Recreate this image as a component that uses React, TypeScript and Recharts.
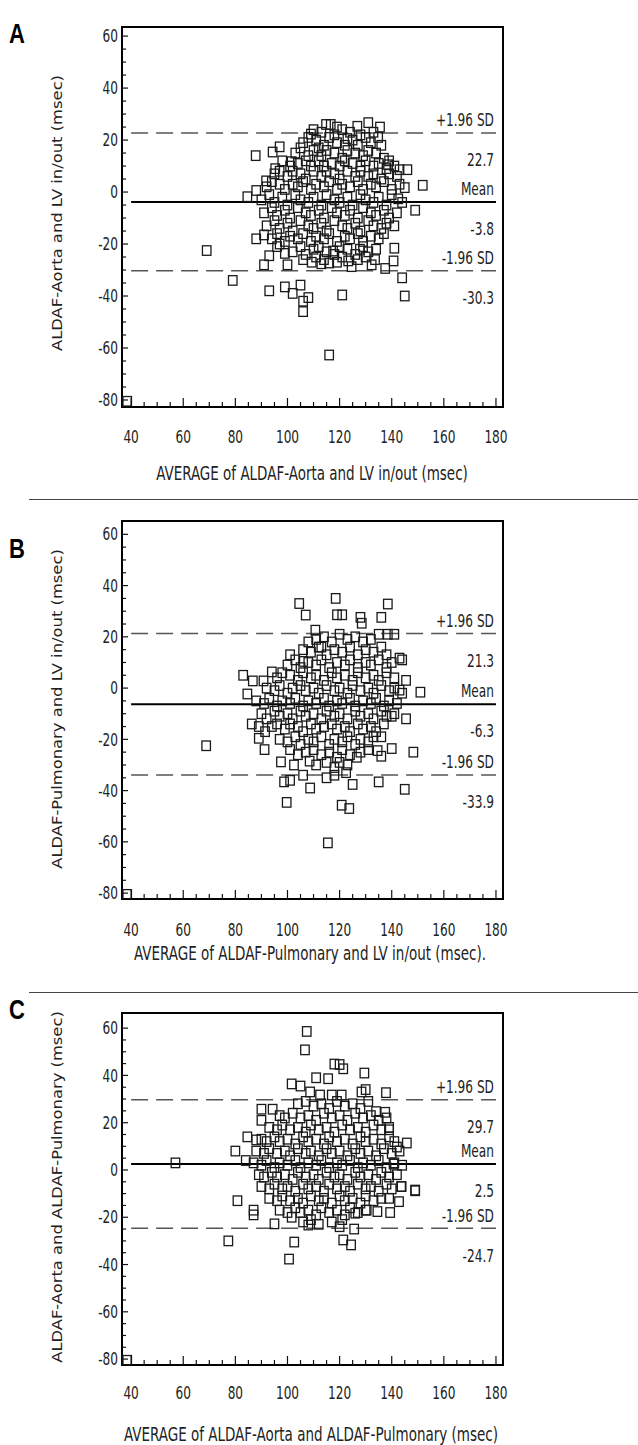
import { ScatterChart, Scatter, XAxis, YAxis, ReferenceLine, ReferenceArea } from 'recharts'

const FONT = '"DejaVu Sans Condensed", "DejaVu Sans", sans-serif'
const STRETCH = 1.3
const X_AXIS_H = 60
const Y_AXIS_W = 60
const PLOT_LEFT = 122

const xTicks = [40, 45, 50, 55, 60, 65, 70, 75, 80, 85, 90, 95, 100, 105, 110, 115, 120, 125, 130, 135, 140, 145, 150, 155, 160, 165, 170, 175, 180]
const yTicks = [-80, -75, -70, -65, -60, -55, -50, -45, -40, -35, -30, -25, -20, -15, -10, -5, 0, 5, 10, 15, 20, 25, 30, 35, 40, 45, 50, 55, 60]
const limitNames = ['+1.96 SD', 'Mean', '-1.96 SD']

// A: ALDAF-Aorta vs LV in/out
const limitsA = [22.7, -3.8, -30.3]
const pointsA: [number, number][] = [
  [38.5, -80.5], [69, -22.5], [79, -34], [116, -62.7], [93, -38], [99, -36.5], [102, -39], [105, -35.8], [106, -42], [106, -46],
  [108, -40.6], [121, -39.6], [144, -33], [145, -40], [149, -7],
  [87.8, 14], [94.3, 15.4], [97, 17.4], [101.6, 11.7], [95.3, 9], [84.6, -1.8], [88, 0.6], [91.8, 4.3], [114.8, 26], [116.6, 26],
  [126.8, 25.3], [131, 26.7], [135.5, 25], [134.8, 21], [109, 22.3], [123, 20.6], [138.6, 10.5], [143, 8.6], [146, 8.6], [151.9, 2.6],
  [145, 1.7], [142.5, -2.6], [141, -21.6], [140.7, -26.5], [137.5, -29.4], [133.6, -26], [132.3, -28], [124.6, -28.7], [127.8, -22], [88, -18],
  [91, -16.5], [91, -28], [93, -24.5], [97, -20], [100, -28], [99, -23.6], [109.3, -27], [113, -27.6], [116, -27.3], [117.5, -22.7], [123.3, -26.5],
  [110, 24], [113, 23], [118, 22], [121, 24], [124, 23], [128, 22], [133, 23], [119, 25],
  [106, 19], [108, 21], [111, 20], [114, 18], [116, 21], [119, 19], [122, 18], [125, 20], [127, 18], [130, 21], [132, 19], [136, 18], [112, 17],
  [103, 15], [105, 17], [108, 14], [110, 16], [113, 14], [115, 16], [118, 15], [121, 13], [123, 16], [126, 15], [129, 14], [131, 16], [134, 15], [137, 13], [139, 12],
  [98, 12], [101, 10], [104, 11], [107, 12], [109, 10], [112, 12], [114, 10], [117, 11], [120, 10], [122, 12], [125, 11], [128, 10], [130, 12], [133, 10], [135, 11], [138, 9], [141, 10],
  [95, 7], [97, 8], [100, 6], [102, 8], [105, 7], [107, 5], [110, 8], [113, 6], [115, 8], [118, 7], [120, 5], [123, 8], [126, 6], [128, 8], [131, 6], [133, 7], [136, 5], [139, 7], [142, 6],
  [92, 2], [94, 4], [97, 3], [99, 1], [102, 3], [104, 2], [106, 4], [109, 1], [111, 3], [114, 2], [116, 4], [119, 1], [121, 3], [124, 2], [127, 4], [129, 1], [132, 3], [134, 2], [137, 4], [140, 1], [143, 3],
  [90, -3], [93, -1], [95, -4], [98, -2], [100, -5], [103, -1], [105, -3], [108, -4], [110, -2], [113, -5], [115, -1], [118, -3], [120, -4], [123, -2], [125, -5], [128, -1], [130, -3], [133, -4], [135, -2], [138, -5], [140, -1], [144, -4],
  [91, -8], [94, -6], [96, -9], [99, -7], [101, -10], [104, -6], [107, -8], [109, -9], [112, -7], [114, -10], [117, -6], [119, -8], [122, -9], [124, -7], [127, -10], [129, -6], [132, -8], [134, -9], [137, -7], [139, -10], [142, -8],
  [92, -13], [95, -11], [97, -14], [100, -12], [102, -15], [105, -11], [108, -13], [110, -14], [113, -12], [115, -15], [118, -11], [121, -13], [123, -14], [126, -12], [128, -15], [131, -11], [133, -13], [136, -14], [138, -12], [141, -13],
  [94, -18], [96, -16], [99, -19], [101, -17], [104, -18], [106, -16], [109, -19], [111, -17], [114, -18], [116, -16], [119, -19], [122, -17], [124, -18], [127, -16], [129, -19], [132, -17], [135, -18], [137, -16],
  [96, -21], [102, -23], [105, -21], [107, -24], [110, -22], [112, -21], [115, -23], [118, -24], [120, -21], [123, -22], [126, -24], [129, -21], [131, -23], [134, -22],
  [106, -26], [111, -25], [114, -26], [119, -27], [121, -25], [127, -26], [130, -25],
]

// B: ALDAF-Pulmonary vs LV in/out
const limitsB = [21.3, -6.3, -33.9]
const pointsB: [number, number][] = [
  [38.5, -80.5], [104.5, 33], [107, 28.5], [118.5, 35], [121, 28.6], [119, 28.6], [128, 27.6], [136, 27.6], [138.5, 32.8], [128.5, 25.3],
  [138.5, 21], [141, 21], [143, 11.7], [144, 11], [145.5, 3], [143, -0.8], [151, -1.6], [83, 5], [84.6, -2.3], [86.7, 2.8],
  [90.8, 2.8], [94, 6.3], [101, 13], [106, 10.4], [108, 18], [110.7, 22.6],
  [86.3, -14], [89, -15], [91.4, -17], [89, -19.6], [91.2, -24], [68.8, -22.5], [97.5, -28.8], [102.5, -30], [98.7, -36.6], [101, -36],
  [99.7, -44.6], [106, -34], [108.7, -39], [108.5, -28.5], [115.5, -60.4], [120.8, -45.7], [123.7, -47], [125, -37.6], [122.5, -33], [118, -34],
  [115, -35], [126.6, -27], [135, -36.6], [145, -39.5], [148.3, -25], [140, -23.6], [136, -26.6], [134.6, -24.4], [136, -19], [145.5, -12], [140, -11],
  [111, 19], [114, 20], [117, 18], [120, 21], [123, 19], [126, 20], [129, 18], [132, 19], [135, 21], [113, 16],
  [106, 15], [109, 14], [112, 16], [115, 13], [118, 15], [121, 14], [124, 16], [127, 13], [130, 15], [133, 14], [136, 16], [138, 13],
  [100, 9], [103, 11], [105, 8], [108, 10], [111, 9], [113, 11], [116, 8], [119, 10], [122, 9], [124, 11], [127, 8], [130, 10], [132, 9], [135, 11], [138, 8], [140, 10],
  [96, 4], [98, 6], [101, 5], [104, 3], [106, 6], [109, 4], [111, 5], [114, 3], [117, 6], [119, 4], [122, 5], [125, 3], [127, 6], [130, 4], [133, 5], [135, 3], [138, 6], [141, 4],
  [92, 0], [95, -1], [97, 1], [100, -2], [102, 0], [105, 1], [107, -1], [110, 0], [112, -2], [115, 1], [118, -1], [120, 0], [123, -2], [125, 1], [128, -1], [131, 0], [133, -2], [136, 1], [139, -1], [141, 0], [144, -2],
  [88, -5], [91, -6], [93, -4], [96, -7], [98, -5], [101, -6], [103, -4], [106, -7], [108, -5], [111, -6], [114, -4], [116, -7], [119, -5], [121, -6], [124, -4], [126, -7], [129, -5], [132, -6], [134, -4], [137, -7], [139, -5], [142, -6],
  [90, -10], [92, -12], [95, -9], [97, -11], [100, -10], [102, -12], [105, -9], [107, -11], [110, -10], [113, -12], [115, -9], [118, -11], [120, -10], [123, -12], [126, -9], [128, -11], [131, -10], [133, -12], [136, -9], [138, -11], [141, -10],
  [94, -15], [96, -14], [99, -16], [101, -14], [104, -15], [106, -17], [109, -14], [111, -16], [114, -15], [117, -14], [119, -16], [122, -15], [124, -17], [127, -14], [129, -16], [132, -15], [134, -17], [137, -14],
  [97, -20], [100, -21], [103, -19], [105, -22], [108, -20], [110, -21], [113, -19], [116, -22], [118, -20], [121, -21], [123, -19], [126, -22], [128, -20], [131, -21], [133, -19],
  [101, -24], [104, -26], [107, -25], [110, -24], [113, -26], [116, -25], [119, -27], [121, -24], [124, -26], [128, -25], [131, -24],
  [111, -30], [115, -29], [118, -31], [120, -29], [123, -30],
]

// C: ALDAF-Aorta vs ALDAF-Pulmonary
const limitsC = [29.7, 2.5, -24.7]
const pointsC: [number, number][] = [
  [38.5, -80.5], [107.4, 58.6], [106.7, 50.8], [118, 44.8], [120, 44.6], [121.4, 42.8], [129.5, 41], [130, 34], [128.4, 33], [137.8, 32.7],
  [101.6, 36.4], [105, 35.5], [111, 39], [115.6, 38.6], [108.7, 33], [112.5, 31.7], [117, 31.7], [120.8, 31.7], [90, 25.7], [94.3, 25.7],
  [90, 21], [84.6, 14], [88, 12.7], [80, 8], [84, 4], [57, 3], [139, 17], [134, 24.7], [137.5, 24.4], [145.8, 11.4],
  [142, 9.7], [140.7, 2.5], [143.6, -7], [149, -8.5],
  [80.8, -13], [87, -17], [87, -19], [77.3, -30], [95, -22.8], [101.6, -20], [102.6, -30.5], [100.6, -37.7], [108, -23.3], [120, -24],
  [121.4, -29.6], [124.4, -31.7], [125.6, -25], [126, -18.3], [130.4, -17], [134.5, -17.6], [139.4, -18], [139, -12], [142.8, -13.4], [143.8, -7], [149, -8.8],
  [104, 28], [107, 29], [110, 27], [113, 28], [116, 26], [119, 29], [122, 27], [125, 28], [128, 26], [131, 29],
  [97, 23], [99, 22], [102, 24], [105, 22], [108, 23], [111, 21], [114, 24], [117, 22], [120, 23], [123, 21], [126, 24], [129, 22], [132, 23], [135, 21], [138, 22],
  [93, 18], [96, 17], [98, 19], [101, 17], [104, 18], [107, 16], [109, 19], [112, 17], [115, 18], [118, 16], [121, 19], [124, 17], [127, 18], [130, 16], [133, 19], [136, 17], [139, 18],
  [90, 13], [92, 12], [95, 14], [97, 12], [100, 13], [103, 11], [106, 14], [108, 12], [111, 13], [114, 11], [116, 14], [119, 12], [122, 13], [125, 11], [128, 14], [130, 12], [133, 13], [136, 11], [139, 14], [141, 12],
  [88, 8], [91, 7], [93, 9], [96, 7], [99, 8], [101, 6], [104, 9], [107, 7], [109, 8], [112, 6], [115, 9], [117, 7], [120, 8], [123, 6], [126, 9], [128, 7], [131, 8], [134, 6], [137, 9], [140, 7], [143, 8],
  [87, 3], [90, 2], [92, 4], [95, 1], [97, 3], [100, 2], [103, 4], [105, 1], [108, 3], [111, 2], [113, 4], [116, 1], [119, 3], [121, 2], [124, 4], [127, 1], [129, 3], [132, 2], [135, 4], [138, 1], [141, 3], [144, 2],
  [89, -2], [91, -3], [94, -1], [96, -3], [99, -2], [102, -4], [104, -1], [107, -3], [110, -2], [112, -4], [115, -1], [118, -3], [120, -2], [123, -4], [126, -1], [128, -3], [131, -2], [134, -4], [136, -1], [139, -3], [142, -2],
  [90, -7], [93, -8], [95, -6], [98, -8], [100, -7], [103, -9], [106, -6], [108, -8], [111, -7], [114, -9], [116, -6], [119, -8], [122, -7], [124, -9], [127, -6], [130, -8], [132, -7], [135, -9], [138, -6], [140, -8],
  [93, -12], [96, -13], [98, -11], [101, -13], [104, -12], [106, -14], [109, -11], [112, -13], [114, -12], [117, -14], [120, -11], [122, -13], [125, -12], [128, -14], [130, -11], [133, -13], [136, -12],
  [97, -17], [100, -18], [103, -16], [105, -18], [108, -17], [111, -19], [113, -16], [116, -18], [119, -17], [122, -19], [124, -16], [127, -18], [130, -17],
  [106, -22], [109, -21], [112, -23], [117, -22], [121, -21],
]

function SText({ x, y, anchor = 'middle', size = 13.5, children }: any) {
  return (
    <text
      transform={`translate(${x},${y}) scale(1,${STRETCH})`}
      textAnchor={anchor}
      dominantBaseline="central"
      fontFamily={FONT}
      fontSize={size}
      fill="#222"
    >
      {children}
    </text>
  )
}

function XTick({ x, payload, plotBottom, gap }: any) {
  const v = payload.value
  const major = v % 20 === 0
  return (
    <g>
      <line x1={x} x2={x} y1={plotBottom} y2={plotBottom - (major ? 9 : 5)} stroke="#111" strokeWidth={1.2} />
      {major && <SText x={x} y={plotBottom + gap}>{v}</SText>}
    </g>
  )
}

function YTick({ y, payload }: any) {
  const v = payload.value
  const major = v % 20 === 0
  return (
    <g>
      <line x1={PLOT_LEFT} x2={PLOT_LEFT + (major ? 6 : 4)} y1={y} y2={y} stroke="#111" strokeWidth={1.2} />
      {major && <SText x={PLOT_LEFT - 4} y={y} anchor="end">{v}</SText>}
    </g>
  )
}

function LimitLabel({ viewBox, above, below }: any) {
  const right = viewBox.x + viewBox.width
  return (
    <g>
      <SText x={right - 2} y={viewBox.y - 13} anchor="end">{above}</SText>
      <SText x={right - 2} y={viewBox.y + 27} anchor="end">{below}</SText>
    </g>
  )
}

const square = (props: any) => (
  <rect x={props.cx - 4.25} y={props.cy - 4.75} width={8.5} height={9.5} fill="none" stroke="#1a1a1a" strokeWidth={1.3} />
)

function Panel({ top, height, plotTop, plotBottom, gap, yDomain, points, limits }: any) {
  const data = points.map(([x, y]: [number, number]) => ({ x, y }))
  return (
    <div style={{ position: 'absolute', left: 0, top }}>
      <ScatterChart
        width={638}
        height={height}
        margin={{ top: plotTop, right: 135, bottom: height - plotBottom - X_AXIS_H, left: PLOT_LEFT - Y_AXIS_W }}
      >
        <XAxis
          type="number"
          dataKey="x"
          domain={[36.5, 182.7]}
          ticks={xTicks}
          interval={0}
          allowDataOverflow
          axisLine={false}
          tickLine={false}
          height={X_AXIS_H}
          tick={<XTick plotBottom={plotBottom} gap={gap} />}
        />
        <YAxis
          type="number"
          dataKey="y"
          domain={yDomain}
          ticks={yTicks}
          interval={0}
          allowDataOverflow
          axisLine={false}
          tickLine={false}
          width={Y_AXIS_W}
          tick={<YTick />}
        />
        <Scatter data={data} shape={square} isAnimationActive={false} />
        {limits.map((v: number, i: number) => (
          <ReferenceLine
            key={i}
            segment={[{ x: 40, y: v }, { x: 180, y: v }]}
            stroke={i === 1 ? '#000' : '#555'}
            strokeWidth={i === 1 ? 2 : 1.5}
            strokeDasharray={i === 1 ? undefined : '17 8'}
            label={<LimitLabel above={limitNames[i]} below={v.toFixed(1)} />}
          />
        ))}
        <ReferenceArea
          x1={36.5}
          x2={182.7}
          y1={yDomain[0]}
          y2={yDomain[1]}
          fill="none"
          stroke="#000"
          strokeWidth={2}
          ifOverflow="visible"
        />
      </ScatterChart>
    </div>
  )
}

function YTitle({ x, y, children }: any) {
  return (
    <text
      transform={`translate(${x},${y}) rotate(-90) scale(1.3,1)`}
      textAnchor="middle"
      dominantBaseline="central"
      fontFamily={FONT}
      fontSize={14}
      fill="#222"
    >
      {children}
    </text>
  )
}

function Letter({ x, y, children }: any) {
  return (
    <text
      transform={`translate(${x},${y}) scale(1,1.25)`}
      fontFamily='"Liberation Sans", Arial, sans-serif'
      fontWeight="bold"
      fontSize={22}
      fill="#000"
    >
      {children}
    </text>
  )
}

export default function App() {
  return (
    <div style={{ position: 'absolute', left: 0, top: 0, width: 638, height: 1445, background: '#fff' }}>
      <Panel top={0} height={500} plotTop={27} plotBottom={407} gap={30} yDomain={[-82.7, 63.5]} points={pointsA} limits={limitsA} />
      <Panel top={500} height={493} plotTop={21} plotBottom={399} gap={31} yDomain={[-82.3, 65.2]} points={pointsB} limits={limitsB} />
      <Panel top={993} height={452} plotTop={20} plotBottom={372} gap={28} yDomain={[-82.5, 66.4]} points={pointsC} limits={limitsC} />
      <svg width={638} height={1445} style={{ position: 'absolute', left: 0, top: 0, pointerEvents: 'none' }}>
        <Letter x={9} y={43}>A</Letter>
        <Letter x={9} y={558}>B</Letter>
        <Letter x={9} y={1019}>C</Letter>
        <line x1={29} x2={638} y1={499.5} y2={499.5} stroke="#444" strokeWidth={1} />
        <line x1={29} x2={638} y1={992.5} y2={992.5} stroke="#444" strokeWidth={1} />
        <SText x={312} y={473} size={15}>AVERAGE of ALDAF-Aorta and LV in/out (msec)</SText>
        <SText x={310} y={953} size={15}>AVERAGE of ALDAF-Pulmonary and LV in/out (msec).</SText>
        <SText x={311} y={1434} size={15}>AVERAGE of ALDAF-Aorta and ALDAF-Pulmonary (msec)</SText>
        <YTitle x={57} y={213}>ALDAF-Aorta and LV in/out (msec)</YTitle>
        <YTitle x={57} y={709}>ALDAF-Pulmonary and LV in/out (msec)</YTitle>
        <YTitle x={57} y={1187}>ALDAF-Aorta and ALDAF-Pulmonary (msec)</YTitle>
      </svg>
    </div>
  )
}
